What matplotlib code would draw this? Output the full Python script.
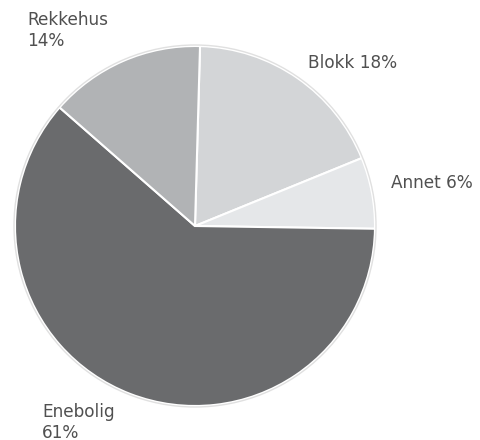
import matplotlib.pyplot as plt

# share of dwellings by type (clockwise from the top)
categories = ["Blokk", "Annet", "Enebolig", "Rekkehus"]
shares = [18.4, 6.4, 61.2, 14.0]
labels = ["Blokk 18%", "Annet 6%", "Enebolig\n61%", "Rekkehus\n14%"]
colors = ["#d3d5d7", "#e5e7e9", "#6a6b6d", "#b1b3b5"]

W, H = 481, 440
fig = plt.figure(figsize=(W / 100, H / 100), dpi=100)
ax = fig.add_axes([0, 0, 1, 1])

# pie in pixel coordinates
cx, cy, r = 195, H - 226, 180
wedges, _ = ax.pie(shares, colors=colors, startangle=88.4, counterclock=False,
                   center=(cx, cy), radius=r, frame=True,
                   wedgeprops=dict(edgecolor="white", linewidth=1.5))
ax.set_xlim(0, W)
ax.set_ylim(0, H)
ax.set_aspect("equal")
ax.axis("off")

# faint outer rim
rim = plt.Circle((cx, cy), r + 1, fill=False, edgecolor="#e0e0e0", linewidth=1)
ax.add_patch(rim)

# label positions (left, top) in pixels
label_pos = {"Blokk": (308, 54), "Annet": (391, 174),
             "Enebolig": (42, 403), "Rekkehus": (27, 11)}
for cat, lab in zip(categories, labels):
    x, y = label_pos[cat]
    ax.text(x, H - y, lab, ha="left", va="top", fontsize=12.2,
            color="#505050", linespacing=1.2, family="DejaVu Sans")

fig.savefig("out.png", dpi=100)
